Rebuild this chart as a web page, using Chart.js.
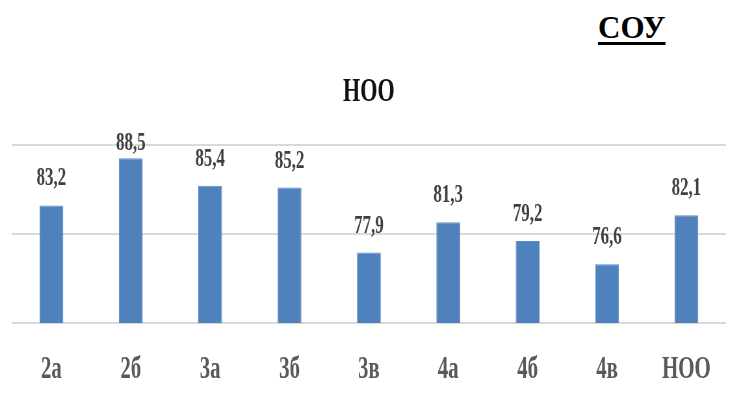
<!DOCTYPE html>
<html>
<head>
<meta charset="utf-8">
<script src="https://cdn.jsdelivr.net/npm/chart.js@4.4.1/dist/chart.umd.min.js"></script>
<style>
  body { margin:0; background:#fff; overflow:hidden; }
  .page { position:relative; width:738px; height:401px; }
  /* the chart in the picture is squeezed sideways, so draw wide and scale down */
  .wrap { position:absolute; left:0; top:0; width:1135px; height:401px; transform:scaleX(0.65); transform-origin:0 0; }
  .sou { position:absolute; left:598px; top:10px; font-family:"Liberation Serif", "DejaVu Serif", serif; font-weight:bold; font-size:31px; color:#000;
         text-decoration:underline; text-decoration-thickness:3px; text-underline-offset:4px; }
</style>
</head>
<body>
<div class="page">
  <div class="sou">СОУ</div>
  <div class="wrap"><canvas id="chart" width="1135" height="401"></canvas></div>
</div>
<script>
// НОО results by class
const classes = ["2а","2б","3а","3б","3в","4а","4б","4в","НОО"];
const scores = [83.2, 88.5, 85.4, 85.2, 77.9, 81.3, 79.2, 76.6, 82.1];
const yTicks = [70, 80, 90];

const serif = "\"Liberation Serif\", \"DejaVu Serif\", serif";

// value labels above the bars, comma as decimal sign
const valueLabels = {
    id: "valueLabels",
    afterDatasetsDraw(chart) {
        const ctx = chart.ctx;
        const meta = chart.getDatasetMeta(0);
        ctx.save();
        ctx.font = "bold 26px " + serif;
        ctx.fillStyle = "#404040";
        ctx.textAlign = "center";
        ctx.textBaseline = "alphabetic";
        meta.data.forEach((bar, i) => {
            let y = Math.max(bar.y - 20, chart.chartArea.top + 5);
            ctx.fillText(scores[i].toFixed(1).replace(".", ","), bar.x, y);
        });
        ctx.restore();
    }
};

new Chart(document.getElementById("chart"), {
    type: "bar",
    data: {
        labels: classes,
        datasets: [{
            data: scores,
            backgroundColor: "#4F81BD",
            borderColor: "#5B8CC6",
            borderWidth: 1,
            barPercentage: 0.3,
            categoryPercentage: 1,
        }],
    },
    options: {
        responsive: false,
        animation: false,
        layout: { padding: { left: 18, right: 18, top: 0, bottom: 0 } },
        plugins: {
            legend: { display: false },
            tooltip: { enabled: false },
            title: {
                display: true,
                text: "НОО",
                color: "#111",
                font: { family: serif, size: 34, weight: "bold" },
                padding: { top: 72, bottom: 32 },
            },
        },
        scales: {
            x: {
                grid: { display: false, drawTicks: false },
                border: { display: false },
                afterFit: (axis) => { axis.height = 78; },
                ticks: {
                    color: "#595959",
                    padding: 28,
                    font: { family: serif, size: 32, weight: "bold" },
                },
            },
            y: {
                min: yTicks[0],
                max: yTicks[yTicks.length - 1],
                afterBuildTicks: (axis) => { axis.ticks = yTicks.map(v => ({ value: v })); },
                grid: { color: "#d9d9d9", lineWidth: 2, drawTicks: false },
                border: { display: false },
                ticks: { display: false },
            },
        },
    },
    plugins: [valueLabels],
});
</script>
</body>
</html>
